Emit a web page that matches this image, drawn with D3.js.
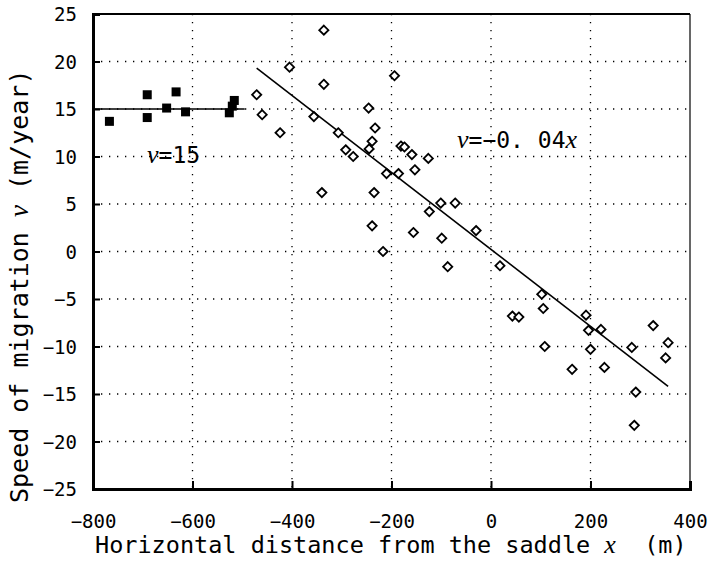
<!DOCTYPE html>
<html>
<head>
<meta charset="utf-8">
<script src="https://cdn.jsdelivr.net/npm/d3@7"></script>
<style>
  html, body { margin: 0; padding: 0; background: #fff; }
  svg { display: block; }
  text { white-space: pre; }
</style>
</head>
<body>
<div id="chart"></div>
<script>
// upper-slope points (filled squares), m and m/year
const squareX = [-767, -691, -691, -652, -633, -614, -526, -520, -516];
const squareV = [13.7, 16.5, 14.1, 15.1, 16.8, 14.7, 14.6, 15.3, 15.9];

// points past the break (open diamonds)
const diamondX = [-336, -405, -336, -194, -471, -460, -424, -356, -246, -307,
  -233, -239, -245, -292, -277, -181, -174, -210, -186, -340,
  -235, -239, -217, -159, -126, -153, -101, -72, -124, -156,
  -99, -30, -87, 18, 102, 105, 43, 56, 108, 191,
  196, 221, 200, 163, 228, 283, 326, 356, 351, 291, 288];
const diamondV = [23.3, 19.4, 17.6, 18.5, 16.5, 14.4, 12.5, 14.2, 15.1, 12.5,
  13.0, 11.6, 10.8, 10.7, 10.0, 11.1, 11.0, 8.2, 8.2, 6.2,
  6.2, 2.7, 0.0, 10.2, 9.8, 8.6, 5.1, 5.1, 4.2, 2.0,
  1.4, 2.2, -1.6, -1.5, -4.5, -6.0, -6.8, -6.9, -10.0, -6.7,
  -8.3, -8.2, -10.3, -12.4, -12.2, -10.1, -7.8, -9.6, -11.2, -14.8, -18.3];

// fitted lines, end points
const flatX = [-800, -495];
const flatV = [15, 15];
const slopeX = [-471, 356];
const slopeV = [19.3, -14.2];

const xTicks = [-800, -600, -400, -200, 0, 200, 400];
const yTicks = [25, 20, 15, 10, 5, 0, -5, -10, -15, -20, -25];

const W = 709, H = 563;
const margin = { top: 14, right: 19, bottom: 74, left: 93 };
const MONO = '"DejaVu Sans Mono", "Liberation Mono", monospace';
const SERIF = '"Liberation Serif", "DejaVu Serif", serif';

const svg = d3.select('#chart').append('svg')
  .attr('width', W).attr('height', H);

const x = d3.scaleLinear().domain([-800, 400]).range([margin.left, W - margin.right]);
const y = d3.scaleLinear().domain([-25, 25]).range([H - margin.bottom, margin.top]);

// dotted grid
const grid = svg.append('g').attr('class', 'grid')
  .attr('stroke', '#000').attr('stroke-width', 1.3)
  .attr('stroke-dasharray', '1.3,6.7');
grid.selectAll('.gx').data(xTicks.slice(1, -1)).enter().append('line')
  .attr('x1', d => x(d)).attr('x2', d => x(d))
  .attr('y1', y(25)).attr('y2', y(-25));
grid.selectAll('.gy').data(yTicks.slice(1, -1)).enter().append('line')
  .attr('x1', x(-800)).attr('x2', x(400))
  .attr('y1', d => y(d)).attr('y2', d => y(d));

// frame: top and right
svg.append('line').attr('x1', x(-800)).attr('x2', x(400))
  .attr('y1', y(25)).attr('y2', y(25))
  .attr('stroke', '#000').attr('stroke-width', 2);
svg.append('line').attr('x1', x(400)).attr('x2', x(400))
  .attr('y1', y(25)).attr('y2', y(-25))
  .attr('stroke', '#000').attr('stroke-width', 1.2);

// axes
const minus = d => String(d).replace('-', '\u2212');
const xAxis = svg.append('g')
  .attr('transform', `translate(0,${y(-25)})`)
  .call(d3.axisBottom(x).tickValues(xTicks).tickSize(-8).tickFormat(minus));
const yAxis = svg.append('g')
  .attr('transform', `translate(${x(-800)},0)`)
  .call(d3.axisLeft(y).tickValues(yTicks).tickSize(-7).tickPadding(16).tickFormat(minus));

[xAxis, yAxis].forEach(g => {
  g.select('.domain').attr('stroke', '#000').attr('stroke-width', 3);
  g.selectAll('.tick line').attr('stroke', '#000').attr('stroke-width', 2);
  g.selectAll('.tick text')
    .attr('fill', '#000')
    .attr('font-family', MONO)
    .attr('font-size', '19px');
});
xAxis.selectAll('.tick text').attr('dy', 0).attr('y', 39);
yAxis.selectAll('.tick text').attr('dy', '0.36em');

// fitted lines
const line = d3.line().x(d => x(d[0])).y(d => y(d[1]));
svg.append('path').datum(d3.zip(flatX, flatV)).attr('d', line)
  .attr('fill', 'none').attr('stroke', '#000').attr('stroke-width', 1.6);
svg.append('path').datum(d3.zip(slopeX, slopeV)).attr('d', line)
  .attr('fill', 'none').attr('stroke', '#000').attr('stroke-width', 1.6);

// squares
const sq = 9;
svg.append('g').selectAll('rect').data(d3.zip(squareX, squareV)).enter().append('rect')
  .attr('x', d => x(d[0]) - sq / 2).attr('y', d => y(d[1]) - sq / 2)
  .attr('width', sq).attr('height', sq).attr('fill', '#000');

// diamonds
const r = 4.6;
svg.append('g').selectAll('path').data(d3.zip(diamondX, diamondV)).enter().append('path')
  .attr('d', d => {
    const cx = x(d[0]), cy = y(d[1]);
    return `M${cx},${cy - r}L${cx + r},${cy}L${cx},${cy + r}L${cx - r},${cy}Z`;
  })
  .attr('fill', '#fff').attr('stroke', '#000').attr('stroke-width', 1.8);

// annotations
const a1 = svg.append('text').attr('x', 147).attr('y', 163)
  .attr('font-size', '23px').attr('fill', '#000');
a1.append('tspan').attr('font-family', SERIF).attr('font-style', 'italic').attr('font-size', '26px').text('v');
a1.append('tspan').attr('font-family', MONO).text('=15');

const a2 = svg.append('text').attr('x', 457).attr('y', 148)
  .attr('font-size', '23px').attr('fill', '#000');
a2.append('tspan').attr('font-family', SERIF).attr('font-style', 'italic').attr('font-size', '26px').text('v');
a2.append('tspan').attr('font-family', MONO).text('=\u22120. 04');
a2.append('tspan').attr('font-family', SERIF).attr('font-style', 'italic').attr('font-size', '26px').text('x');

// axis titles
const xt = svg.append('text').attr('x', 95).attr('y', 553)
  .attr('font-size', '23.5px').attr('fill', '#000').attr('font-family', MONO);
xt.append('tspan').text('Horizontal distance from the saddle ');
xt.append('tspan').attr('font-family', SERIF).attr('font-style', 'italic').attr('font-size', '26px').text('x');
xt.append('tspan').text('  (m)');

const yt = svg.append('text')
  .attr('transform', 'translate(28,503) rotate(-90)')
  .attr('font-size', '25px').attr('fill', '#000').attr('font-family', MONO);
yt.append('tspan').text('Speed of migration ');
yt.append('tspan').attr('font-family', SERIF).attr('font-style', 'italic').attr('font-size', '27px').text('v');
yt.append('tspan').text(' (m/year)');
</script>
</body>
</html>
